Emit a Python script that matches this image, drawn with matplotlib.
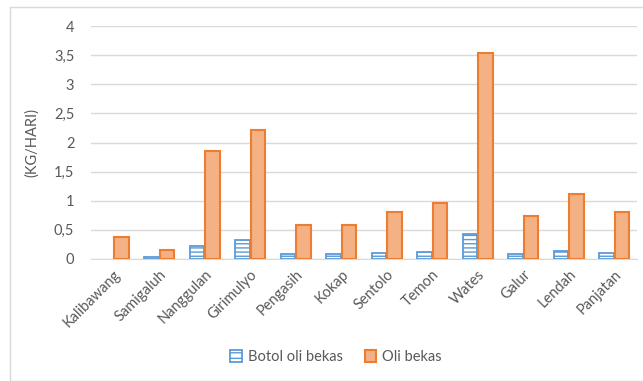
import numpy as np
from matplotlib import pyplot as plt
from matplotlib.patches import Rectangle, Patch

plt.rcParams['font.family'] = ['Lato', 'DejaVu Sans']
plt.rcParams['hatch.linewidth'] = 1.0
plt.rcParams['hatch.color'] = '#5B9BD5'

kecamatan = ['Kalibawang', 'Samigaluh', 'Nanggulan', 'Girimulyo', 'Pengasih', 'Kokap',
             'Sentolo', 'Temon', 'Wates', 'Galur', 'Lendah', 'Panjatan']
botol = [0.0, 0.03, 0.22, 0.32, 0.08, 0.08, 0.11, 0.12, 0.43, 0.09, 0.14, 0.10]
oli = [0.38, 0.16, 1.85, 2.21, 0.59, 0.59, 0.81, 0.96, 3.53, 0.74, 1.11, 0.81]
yticks = [0, 0.5, 1, 1.5, 2, 2.5, 3, 3.5, 4]
ytick_labels = ['0', '0,5', '1', '1,5', '2', '2,5', '3', '3,5', '4']

grey = '#595959'
fig = plt.figure(figsize=(6.43, 3.81), dpi=100)
ax = fig.add_axes([91 / 643, 1 - 259 / 381, 546 / 643, 233 / 381])

# chart border
fig.patches.append(Rectangle((10 / 643, 0.0), 640 / 643, 1 - 7 / 381, transform=fig.transFigure,
                             fill=False, edgecolor='#D9D9D9', linewidth=1))

x = np.arange(len(kecamatan))
w = 0.32
b1 = ax.bar(x - w / 2 - 0.01, botol, w, facecolor='white', edgecolor='#5B9BD5', hatch='----',
            linewidth=1.3, zorder=3)
for r in b1:
    if r.get_height() == 0:
        r.set_visible(False)
ax.bar(x + w / 2 + 0.01, oli, w, facecolor='#F4B183', edgecolor='#ED7D31',
       linewidth=1.5, zorder=3)

ax.set_xlim(-0.5, len(kecamatan) - 0.5)
ax.set_ylim(0, 4)
ax.set_yticks(yticks)
ax.set_yticklabels(ytick_labels, color=grey, fontsize=10.5)
ax.set_xticks(x)
ax.set_xticklabels(kecamatan, rotation=45, ha='right', rotation_mode='anchor', color=grey, fontsize=10.5)
ax.tick_params(axis='y', length=0, pad=12)
ax.tick_params(axis='x', length=0, pad=6)
ax.grid(axis='y', color='#D9D9D9', linewidth=1, zorder=0)
for s in ['top', 'right', 'left']:
    ax.spines[s].set_visible(False)
ax.spines['bottom'].set_color('#D9D9D9')
ax.set_ylabel('(KG/HARI)', color=grey, fontsize=10.5)
ax.yaxis.set_label_coords(-52 / 546, 0.5)

handles = [Patch(facecolor='white', edgecolor='#5B9BD5', hatch='---', linewidth=1.3, label='Botol oli bekas'),
           Patch(facecolor='#F4B183', edgecolor='#ED7D31', linewidth=1.5, label='Oli bekas')]
fig.legend(handles=handles, loc='center', bbox_to_anchor=(336 / 643, 1 - 357 / 381), ncol=2, frameon=False,
           fontsize=10.5, labelcolor=grey, handlelength=0.8, handleheight=0.8, columnspacing=1.5,
           handletextpad=0.4)

plt.savefig('out.png', dpi=100)
